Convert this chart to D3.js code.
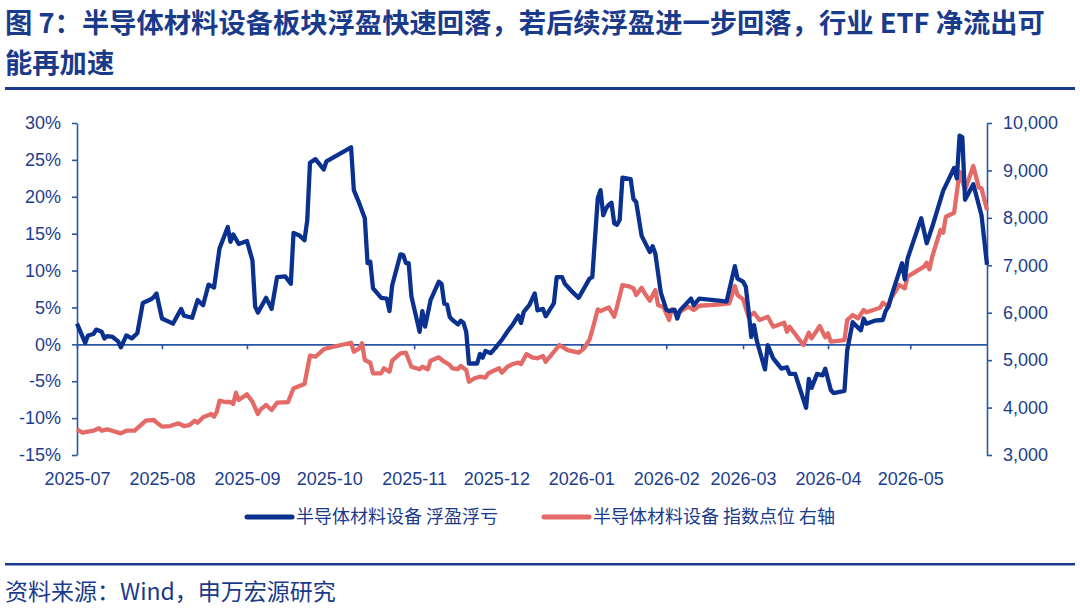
<!DOCTYPE html>
<html>
<head>
<meta charset="utf-8">
<script src="https://cdn.jsdelivr.net/npm/d3@7"></script>
<style>
  body { margin: 0; background: #fff; }
  svg { display: block; }
  .tick text { font-family: "Liberation Sans", Arial, sans-serif; font-size: 18px; fill: #1c3d8c; }
</style>
</head>
<body>
<div id="chart"></div>
<script>
// 浮盈浮亏 (%), left axis
const blueDates = ["2025-07-01","2025-07-04","2025-07-05","2025-07-07","2025-07-08","2025-07-10","2025-07-11","2025-07-12","2025-07-14","2025-07-16","2025-07-17","2025-07-19","2025-07-21","2025-07-23","2025-07-25","2025-07-28","2025-07-29","2025-07-30",
  "2025-08-01","2025-08-05","2025-08-08","2025-08-09","2025-08-12","2025-08-14","2025-08-16","2025-08-18","2025-08-20","2025-08-22","2025-08-25","2025-08-26","2025-08-27","2025-08-29",
  "2025-09-01","2025-09-03","2025-09-04","2025-09-05","2025-09-08","2025-09-10","2025-09-12","2025-09-15","2025-09-17","2025-09-18","2025-09-20","2025-09-22","2025-09-23","2025-09-24","2025-09-26","2025-09-29","2025-09-30",
  "2025-10-09","2025-10-10","2025-10-12","2025-10-14","2025-10-15","2025-10-16","2025-10-17","2025-10-20","2025-10-22","2025-10-23","2025-10-24","2025-10-27","2025-10-28","2025-10-29","2025-10-30","2025-10-31",
  "2025-11-03","2025-11-04","2025-11-05","2025-11-07","2025-11-10","2025-11-11","2025-11-12","2025-11-13","2025-11-14","2025-11-15","2025-11-17","2025-11-18","2025-11-19","2025-11-20","2025-11-21","2025-11-24","2025-11-25","2025-11-26","2025-11-27","2025-11-29",
  "2025-12-01","2025-12-03","2025-12-05","2025-12-07","2025-12-09","2025-12-10","2025-12-11","2025-12-13","2025-12-15","2025-12-16","2025-12-18","2025-12-19","2025-12-22","2025-12-23","2025-12-25","2025-12-26","2025-12-29","2025-12-31",
  "2026-01-04","2026-01-05","2026-01-07","2026-01-08","2026-01-09","2026-01-10","2026-01-11","2026-01-12","2026-01-13","2026-01-14","2026-01-15","2026-01-16","2026-01-19","2026-01-20","2026-01-21","2026-01-23","2026-01-26","2026-01-27","2026-01-28","2026-01-30",
  "2026-02-01","2026-02-02","2026-02-04","2026-02-05","2026-02-06","2026-02-10","2026-02-11","2026-02-13","2026-02-21","2026-02-23","2026-02-26","2026-02-27",
  "2026-03-01","2026-03-02","2026-03-03","2026-03-04","2026-03-05","2026-03-06","2026-03-09","2026-03-10","2026-03-12","2026-03-15","2026-03-17","2026-03-18","2026-03-20","2026-03-22","2026-03-24","2026-03-25","2026-03-26","2026-03-28","2026-03-30","2026-03-31",
  "2026-04-02","2026-04-03","2026-04-07","2026-04-08","2026-04-10","2026-04-11","2026-04-13","2026-04-14","2026-04-15","2026-04-18","2026-04-21","2026-04-22","2026-04-23","2026-04-24","2026-04-26","2026-04-28","2026-04-29","2026-04-30",
  "2026-05-05","2026-05-07","2026-05-09","2026-05-13","2026-05-17","2026-05-18","2026-05-19","2026-05-20","2026-05-21","2026-05-24","2026-05-27","2026-05-29"];
const blueVals = [2.8,0.2,1.2,1.4,2.0,1.7,0.8,1.1,1.0,0.4,-0.4,1.2,0.8,1.5,5.6,6.1,6.4,6.9,
  3.5,2.8,4.8,3.9,3.6,6.0,5.3,8.1,7.7,13.0,15.9,13.9,14.9,13.6,
  14.0,11.4,5.1,4.3,6.3,4.8,9.1,9.2,8.2,15.1,14.8,14.1,16.8,24.6,25.1,23.7,24.8,
  26.7,20.9,19.1,17.1,11.0,11.2,7.6,6.3,6.2,4.5,8.0,12.2,12.1,11.0,11.0,6.5,
  1.7,4.5,2.4,6.0,8.5,8.2,5.5,5.4,3.7,3.3,2.7,3.2,2.9,1.7,-2.6,-2.6,-1.3,-1.8,-0.9,-1.2,
  -0.3,0.6,1.7,2.7,3.9,2.9,4.4,5.3,6.9,4.6,4.8,3.8,5.6,9.1,9.1,8.2,7.0,6.3,
  8.9,9.1,19.8,20.9,17.5,18.4,18.9,19.2,16.4,16.2,16.9,22.6,22.4,19.7,19.3,14.7,12.5,13.3,12.3,7.0,
  4.7,4.5,4.7,3.5,4.6,6.2,5.3,6.2,5.9,5.8,10.6,8.9,
  8.5,7.8,4.6,1.0,2.6,0.5,-3.4,-0.1,-1.9,-3.3,-3.1,-4.0,-4.0,-6.3,-8.6,-4.7,-5.9,-4.0,-4.2,-3.3,
  -6.2,-6.6,-6.3,-0.8,3.0,2.6,1.9,3.5,2.8,3.2,3.3,4.5,5.1,6.4,8.7,11.0,8.8,11.6,
  17.1,13.7,15.9,20.8,23.9,22.5,28.3,28.1,19.6,21.7,17.5,10.8];

// 指数点位, right axis
const redDates = ["2025-07-01","2025-07-03","2025-07-07","2025-07-09","2025-07-10","2025-07-12","2025-07-17","2025-07-19","2025-07-22","2025-07-25","2025-07-26","2025-07-29","2025-07-30",
  "2025-08-01","2025-08-04","2025-08-07","2025-08-09","2025-08-11","2025-08-13","2025-08-14","2025-08-16","2025-08-19","2025-08-20","2025-08-21","2025-08-22","2025-08-24","2025-08-26","2025-08-27","2025-08-28","2025-08-29",
  "2025-09-01","2025-09-03","2025-09-05","2025-09-06","2025-09-08","2025-09-10","2025-09-12","2025-09-16","2025-09-18","2025-09-19","2025-09-22","2025-09-24","2025-09-26","2025-09-29","2025-09-30",
  "2025-10-09","2025-10-10","2025-10-12","2025-10-13","2025-10-14","2025-10-16","2025-10-17","2025-10-20","2025-10-21","2025-10-23","2025-10-24","2025-10-27","2025-10-29","2025-10-31",
  "2025-11-03","2025-11-04","2025-11-06","2025-11-07","2025-11-10","2025-11-12","2025-11-14","2025-11-15","2025-11-17","2025-11-18","2025-11-20","2025-11-21","2025-11-23","2025-11-25","2025-11-27","2025-11-28","2025-11-30",
  "2025-12-02","2025-12-03","2025-12-05","2025-12-07","2025-12-09","2025-12-10","2025-12-12","2025-12-14","2025-12-16","2025-12-18","2025-12-19","2025-12-21","2025-12-24","2025-12-27","2025-12-31",
  "2026-01-02","2026-01-04","2026-01-05","2026-01-07","2026-01-08","2026-01-11","2026-01-13","2026-01-14","2026-01-16","2026-01-18","2026-01-20","2026-01-21","2026-01-23","2026-01-24","2026-01-26","2026-01-28","2026-01-29","2026-01-31",
  "2026-02-02","2026-02-03","2026-02-05","2026-02-09","2026-02-11","2026-02-13","2026-02-21","2026-02-24","2026-02-26","2026-02-27",
  "2026-03-01","2026-03-03","2026-03-05","2026-03-07","2026-03-10","2026-03-12","2026-03-16","2026-03-17","2026-03-18","2026-03-20","2026-03-23","2026-03-25","2026-03-26","2026-03-29","2026-03-31",
  "2026-04-01","2026-04-02","2026-04-07","2026-04-08","2026-04-10","2026-04-12","2026-04-14","2026-04-15","2026-04-20","2026-04-21","2026-04-23","2026-04-24","2026-04-27","2026-04-29","2026-04-30",
  "2026-05-03","2026-05-06","2026-05-07","2026-05-08","2026-05-09","2026-05-12","2026-05-13","2026-05-14","2026-05-17","2026-05-19","2026-05-21","2026-05-24","2026-05-26","2026-05-27","2026-05-29"];
const redVals = [3542,3470,3512,3563,3512,3542,3457,3512,3512,3668,3723,3738,3688,
  3597,3611,3668,3611,3632,3723,3681,3795,3864,3808,3913,4145,4117,4117,4075,4314,4160,
  4279,4124,3864,3963,4054,3949,4103,4117,4406,4427,4497,5093,5072,5228,5249,
  5367,5178,5249,5355,5003,4946,4722,4722,4828,4756,4988,5144,5157,4861,
  4807,4861,4807,4988,5059,4967,4897,4828,4813,4876,4792,4545,4617,4651,4630,4722,4777,
  4828,4735,4861,4918,4946,4918,5129,5059,5038,5087,4967,5108,5319,5213,5157,
  5249,5439,5635,6071,6036,6113,5915,6126,6584,6563,6514,6373,6527,6422,6253,6478,6162,6113,
  5846,6071,5987,6126,6057,6147,6177,6198,6563,6373,
  6282,5915,6000,5846,5915,5704,5789,5600,5704,5551,5319,5578,5460,5719,5481,
  5565,5389,5424,5846,5951,5882,6057,6008,6105,6211,6126,6303,6584,6514,6759,
  6865,6970,7054,6914,7180,7743,7686,8023,8108,8972,8586,9092,8643,8622,8164];

const leftTicks = [-15, -10, -5, 0, 5, 10, 15, 20, 25, 30];
const rightTicks = [3000, 4000, 5000, 6000, 7000, 8000, 9000, 10000];
const titleLines = ["图 7：半导体材料设备板块浮盈快速回落，若后续浮盈进一步回落，行业 ETF 净流出可", "能再加速"];
const legendNames = ["半导体材料设备 浮盈浮亏", "半导体材料设备 指数点位 右轴"];
const sourceText = "资料来源：Wind，申万宏源研究";

const width = 1080;
const height = 612;
const navy = "#1a3a8c";
const axisColor = "#2a56a8";
const blue = "#0b3190";
const red = "#e46a68";
const cjk = "'Noto Sans CJK SC', 'Noto Sans', sans-serif";

const parse = d3.timeParse("%Y-%m-%d");
const blueData = blueDates.map((d, i) => ({ date: parse(d), val: blueVals[i] }));
const redData = redDates.map((d, i) => ({ date: parse(d), val: redVals[i] }));

const svg = d3.select("#chart")
  .append("svg")
    .attr("width", width)
    .attr("height", height);

// title
svg.selectAll(".title")
  .data(titleLines)
  .enter()
  .append("text")
    .attr("class", "title")
    .attr("x", 5)
    .attr("y", (d, i) => 33 + i * 40)
    .style("font-family", cjk)
    .style("font-weight", 700)
    .style("font-size", "27.3px")
    .style("fill", navy)
    .text((d) => d);

svg.append("rect")
  .attr("x", 5).attr("y", 87)
  .attr("width", 1070).attr("height", 3)
  .style("fill", navy);

// scales
const x = d3.scaleTime()
  .domain([parse("2025-07-01"), parse("2026-05-29")])
  .range([77, 987]);
const yL = d3.scaleLinear().domain([-15, 30]).range([455, 123]);
const yR = d3.scaleLinear().domain([3000, 10000]).range([455, 123]);

const months = d3.timeMonth.range(parse("2025-07-01"), parse("2026-05-29"));

// zero line with month ticks
svg.append("g")
  .attr("transform", `translate(0,${yL(0)})`)
  .call(d3.axisBottom(x).tickValues(months).tickSize(5).tickSizeOuter(0).tickFormat(""));

// month labels along the bottom
svg.append("g")
  .attr("transform", `translate(0,${yL(-15)})`)
  .call(d3.axisBottom(x).tickValues(months).tickSize(0).tickPadding(17).tickFormat(d3.timeFormat("%Y-%m")))
  .call((g) => g.select(".domain").remove());

svg.append("g")
  .attr("transform", "translate(77,0)")
  .call(d3.axisLeft(yL).tickValues(leftTicks).tickSize(5).tickSizeOuter(0).tickPadding(11).tickFormat((d) => d + "%"));

svg.append("g")
  .attr("transform", "translate(987,0)")
  .call(d3.axisRight(yR).tickValues(rightTicks).tickSize(5).tickSizeOuter(0).tickPadding(11).tickFormat(d3.format(",")));

svg.selectAll(".domain, .tick line")
  .style("stroke", axisColor)
  .style("stroke-width", 1.6);

// lines
const blueLine = d3.line()
  .x((d) => x(d.date))
  .y((d) => yL(d.val));
const redLine = d3.line()
  .x((d) => x(d.date))
  .y((d) => yR(d.val));

svg.append("path")
  .datum(redData)
    .style("fill", "none")
    .style("stroke", red)
    .style("stroke-width", 4.3)
    .style("stroke-linejoin", "round")
    .attr("d", redLine);

svg.append("path")
  .datum(blueData)
    .style("fill", "none")
    .style("stroke", blue)
    .style("stroke-width", 4.3)
    .style("stroke-linejoin", "round")
    .attr("d", blueLine);

// legend
const legend = svg.selectAll(".legend")
  .data(legendNames)
  .enter()
  .append("g")
    .attr("class", "legend")
    .attr("transform", (d, i) => `translate(${i === 0 ? 245 : 542},517)`);
legend.append("line")
  .attr("x1", 2).attr("x2", 47)
  .style("stroke", (d, i) => i === 0 ? blue : red)
  .style("stroke-width", 5)
  .style("stroke-linecap", "round");
legend.append("text")
  .attr("x", 51)
  .attr("dy", "0.35em")
  .style("font-family", cjk)
  .style("font-size", "18px")
  .style("fill", navy)
  .text((d) => d);

// footer
svg.append("rect")
  .attr("x", 5).attr("y", 563)
  .attr("width", 1070).attr("height", 2.5)
  .style("fill", navy);

svg.append("text")
  .attr("x", 5)
  .attr("y", 600)
  .style("font-family", cjk)
  .style("font-size", "23px")
  .style("fill", navy)
  .text(sourceText);
</script>
</body>
</html>
